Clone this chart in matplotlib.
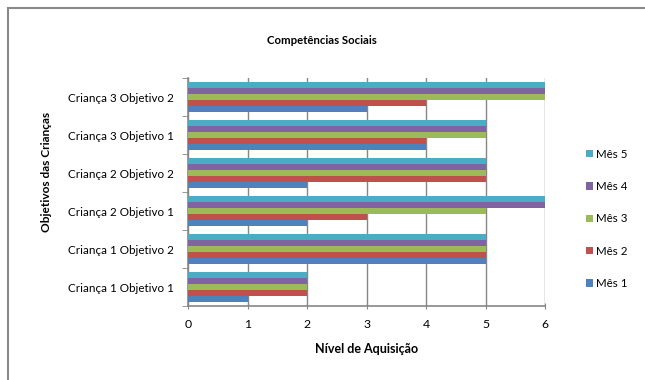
import numpy as np
import matplotlib.pyplot as plt
from matplotlib.patches import Rectangle

plt.rcParams['font.family'] = ['Lato', 'DejaVu Sans']

objetivos = ["Criança 1 Objetivo 1", "Criança 1 Objetivo 2",
             "Criança 2 Objetivo 1", "Criança 2 Objetivo 2",
             "Criança 3 Objetivo 1", "Criança 3 Objetivo 2"]
meses = ["Mês 1", "Mês 2", "Mês 3", "Mês 4", "Mês 5"]

mes1 = [1, 5, 2, 2, 4, 3]
mes2 = [2, 5, 3, 5, 4, 4]
mes3 = [2, 5, 5, 5, 5, 6]
mes4 = [2, 5, 6, 5, 5, 6]
mes5 = [2, 5, 6, 5, 5, 6]

cores = ["#4F81BD", "#C0504D", "#9BBB59", "#8064A2", "#4BACC6"]
grey = "#868686"

fig = plt.figure(figsize=(6.45, 3.8), dpi=100)
ax = fig.add_axes([188 / 645, 1 - 306 / 380, 357 / 645, 228 / 380])

y = np.arange(len(objetivos))
h = 0.158
for i, (vals, cor, nome) in enumerate(zip([mes1, mes2, mes3, mes4, mes5], cores, meses)):
    ax.barh(y + (i - 2) * h, vals, height=h * 0.92, color=cor, label=nome, zorder=3)

ax.set_xlim(0, 6)
ax.set_ylim(-0.5, 5.5)
ax.set_xticks(range(7))
ax.set_yticks(y)
ax.set_yticklabels(objetivos)
ax.set_yticks(np.arange(-0.5, 6, 1), minor=True)
ax.tick_params(axis='y', which='major', length=0, pad=10, labelsize=8.4)
ax.tick_params(axis='y', which='minor', length=4, color=grey, direction='out')
ax.tick_params(axis='x', length=4, color=grey, direction='inout', labelsize=8.8, pad=7)
ax.grid(axis='x', color=grey, linewidth=1, zorder=0)

for s in ['top', 'right']:
    ax.spines[s].set_visible(False)
for s in ['left', 'bottom']:
    ax.spines[s].set_color(grey)
    ax.spines[s].set_linewidth(1.2)

ax.set_xlabel("Nível de Aquisição", fontsize=9, fontweight='bold', labelpad=10)
ax.set_ylabel("Objetivos das Crianças", fontsize=8.6, fontweight='bold')
ax.yaxis.set_label_coords(-0.38, 0.59)
fig.text(322 / 645, 1 - 40 / 380, "Competências Sociais", ha='center', va='center',
         fontsize=8.2, fontweight='bold')

handles, labels = ax.get_legend_handles_labels()
leg = fig.legend(handles[::-1], labels[::-1], loc='center left',
                 bbox_to_anchor=(576 / 645, 1 - 219 / 380), frameon=False, fontsize=8.3,
                 handlelength=0.6, handleheight=0.6, handletextpad=0.2,
                 labelspacing=1.85)

# chart area border
fig.patches.append(Rectangle((8 / 645, -0.1), 1.2, 1 - 8 / 380 + 0.1,
                             transform=fig.transFigure, fill=False,
                             edgecolor="#8a8a8a", linewidth=1.5))

fig.savefig("out.png", dpi=100)
